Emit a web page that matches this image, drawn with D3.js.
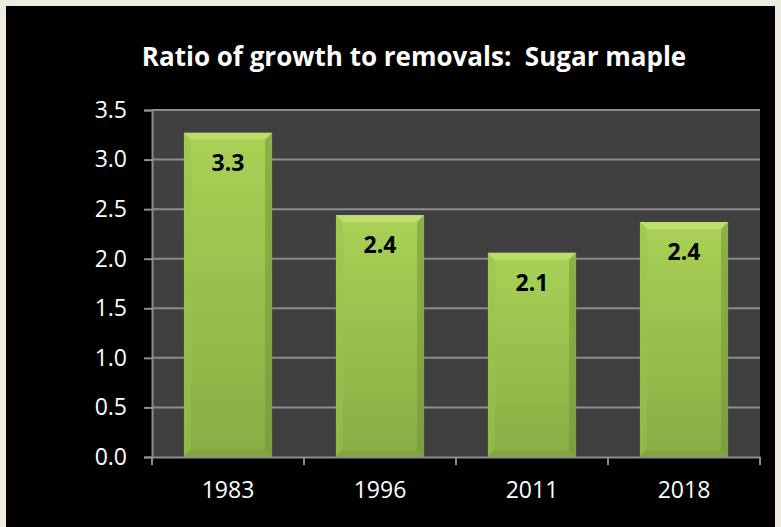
<!DOCTYPE html>
<html>
<head>
<meta charset="utf-8">
<script src="https://cdn.jsdelivr.net/npm/d3@7"></script>
<style>
  body { margin: 0; background: #eeebe1; }
  svg { display: block; }
</style>
</head>
<body>
<script>
const years = ['1983', '1996', '2011', '2018'];
const ratios = [3.27, 2.44, 2.06, 2.37];
const labels = ['3.3', '2.4', '2.1', '2.4'];
const yTicks = [0, 0.5, 1.0, 1.5, 2.0, 2.5, 3.0, 3.5];

const width = 781, height = 527;
const plot = { left: 152, right: 760, top: 110, bottom: 457 };

const svg = d3.select('body').append('svg')
  .attr('width', width)
  .attr('height', height);

// black chart panel
svg.append('rect')
  .attr('x', 6).attr('y', 6)
  .attr('width', 769).attr('height', height - 6)
  .attr('fill', '#000');

const defs = svg.append('defs');
const grad = defs.append('linearGradient')
  .attr('id', 'barGrad')
  .attr('x1', 0).attr('y1', 0).attr('x2', 0).attr('y2', 1);
grad.append('stop').attr('offset', '0%').attr('stop-color', '#a9d256');
grad.append('stop').attr('offset', '100%').attr('stop-color', '#88ad45');

const x = d3.scaleBand()
  .domain(years)
  .range([plot.left, plot.right])
  .paddingInner(0.42)
  .paddingOuter(0.21);

const y = d3.scaleLinear()
  .domain([0, 3.5])
  .range([plot.bottom, plot.top]);

svg.append('rect')
  .attr('x', plot.left).attr('y', plot.top)
  .attr('width', plot.right - plot.left)
  .attr('height', plot.bottom - plot.top)
  .attr('fill', '#404040');

// gridlines
svg.append('g')
  .selectAll('line')
  .data(yTicks.filter(d => d > 0))
  .join('line')
  .attr('x1', plot.left).attr('x2', plot.right)
  .attr('y1', d => y(d)).attr('y2', d => y(d))
  .attr('stroke', '#8c8c8c')
  .attr('stroke-width', 2);

// bars
const bars = svg.append('g')
  .selectAll('g')
  .data(years.map((d, i) => ({ year: d, v: ratios[i], label: labels[i] })))
  .join('g');

bars.append('rect')
  .attr('x', d => x(d.year))
  .attr('y', d => y(d.v))
  .attr('width', x.bandwidth())
  .attr('height', d => y(0) - y(d.v))
  .attr('fill', 'url(#barGrad)');

const bev = 7;
// top bevel
bars.append('polygon')
  .attr('points', d => {
    const x0 = x(d.year), x1 = x0 + x.bandwidth(), t = y(d.v);
    return [[x0, t], [x1, t], [x1 - bev, t + bev], [x0 + bev, t + bev]].join(' ');
  })
  .attr('fill', '#c3e672').attr('opacity', 0.7);
// left bevel
bars.append('polygon')
  .attr('points', d => {
    const x0 = x(d.year), t = y(d.v), b = y(0);
    return [[x0, t], [x0 + bev, t + bev], [x0 + bev, b - bev], [x0, b]].join(' ');
  })
  .attr('fill', '#9cc24e').attr('opacity', 0.5);
// right bevel
bars.append('polygon')
  .attr('points', d => {
    const x1 = x(d.year) + x.bandwidth(), t = y(d.v), b = y(0);
    return [[x1, t], [x1 - bev, t + bev], [x1 - bev, b - bev], [x1, b]].join(' ');
  })
  .attr('fill', '#6f8f35').attr('opacity', 0.5);
// bottom bevel
bars.append('polygon')
  .attr('points', d => {
    const x0 = x(d.year), x1 = x0 + x.bandwidth(), b = y(0);
    return [[x0, b], [x1, b], [x1 - bev, b - bev], [x0 + bev, b - bev]].join(' ');
  })
  .attr('fill', '#7c9d3c').attr('opacity', 0.5);

bars.append('text')
  .attr('x', d => x(d.year) + x.bandwidth() / 2)
  .attr('y', d => y(d.v) + 38)
  .attr('text-anchor', 'middle')
  .attr('font-family', 'Open Sans, sans-serif')
  .attr('font-weight', 'bold')
  .attr('font-size', 23)
  .attr('fill', '#000')
  .text(d => d.label);

// axes
const yAxis = svg.append('g')
  .attr('transform', `translate(${plot.left},0)`)
  .call(d3.axisLeft(y).tickValues(yTicks).tickFormat(d3.format('.1f')).tickSize(8).tickPadding(17));

const xAxis = svg.append('g')
  .attr('transform', `translate(0,${plot.bottom})`)
  .call(d3.axisBottom(x).tickSize(0).tickPadding(25));

// x ticks at category boundaries
svg.append('g')
  .selectAll('line')
  .data(d3.range(years.length + 1))
  .join('line')
  .attr('x1', i => plot.left + i * (plot.right - plot.left) / years.length)
  .attr('x2', i => plot.left + i * (plot.right - plot.left) / years.length)
  .attr('y1', plot.bottom).attr('y2', plot.bottom + 8)
  .attr('stroke', '#8c8c8c').attr('stroke-width', 2);

[yAxis, xAxis].forEach(g => {
  g.attr('font-size', 23).attr('font-family', 'Open Sans, sans-serif');
  g.select('.domain').attr('stroke', '#8c8c8c').attr('stroke-width', 2);
  g.selectAll('.tick line').attr('stroke', '#8c8c8c').attr('stroke-width', 2);
  g.selectAll('text').attr('fill', '#fff');
});

svg.append('text')
  .attr('x', 414)
  .attr('y', 66)
  .attr('text-anchor', 'middle')
  .attr('font-family', 'Open Sans, sans-serif')
  .attr('font-weight', 'bold')
  .attr('font-size', 26)
  .attr('fill', '#fff')
  .style('white-space', 'pre')
  .text('Ratio of growth to removals:  Sugar maple');
</script>
</body>
</html>
